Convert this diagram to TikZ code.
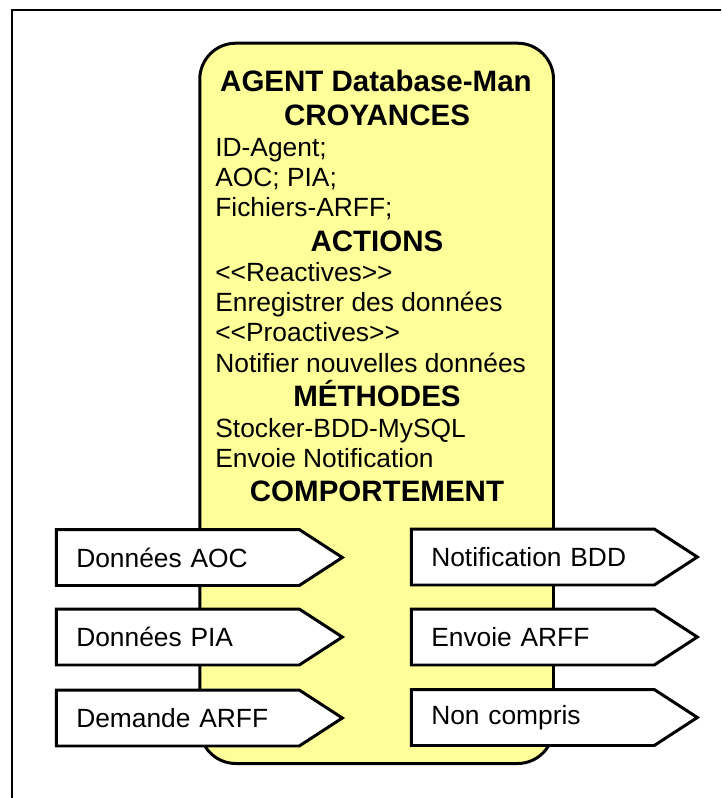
\documentclass[tikz,border=0pt]{standalone}
\usepackage{fontspec}
\setmainfont{Liberation Sans}
\usetikzlibrary{shapes.symbols}

\definecolor{agentyellow}{RGB}{255,255,153}

\tikzset{
	msg/.style={signal, signal to=east, signal pointer angle=66, draw=black, line width=1.7pt, fill=white,
		text width=4.06cm, inner xsep=0.40cm, minimum height=1.12cm, align=left,
		font=\fontsize{15}{18}\selectfont},
	ligne/.style={anchor=base west, inner sep=0pt, font=\fontsize{15}{18}\selectfont},
	titre/.style={anchor=base, inner sep=0pt, font=\bfseries\fontsize{16.8}{20}\selectfont}
}

\begin{document}
\begin{tikzpicture}[x=0.02cm, y=-0.02cm]
		\useasboundingbox (0,0) rectangle (721,798);

		% Draw the outer frame (it runs off the page right and bottom)
		\begin{scope}
			\clip (0,0) rectangle (721,798);
			\draw[line width=1.1pt] (12,10) rectangle (760,840);
		\end{scope}

		% Draw the agent body
		\draw[line width=1.7pt, fill=agentyellow, rounded corners=0.72cm] (199.8,43.2) rectangle (553.5,763.5);

		% Agent name and its sections
		\node[titre] (nom) at (376,91.7) {AGENT Database-Man};
		\node[titre] (croy) at (377,125) {CROYANCES};
		\node[ligne] (idagent) at (215,156.7) {ID-Agent;};
		\node[ligne] (aocpia) at (215,186.7) {AOC; PIA;};
		\node[ligne] (fichiers) at (215,216.7) {Fichiers-ARFF;};
		\node[titre] (actions) at (377,251.7) {ACTIONS};
		\node[ligne] (react) at (215,281.7) {<\kern0pt<Reactives>\kern0pt>};
		\node[ligne] (enreg) at (215,311.7) {Enregistrer des données};
		\node[ligne] (proact) at (215,341.7) {<\kern0pt<Proactives>\kern0pt>};
		\node[ligne] (notif) at (215,372.5) {Notifier nouvelles données};
		\node[titre] (meth) at (377,406) {MÉTHODES};
		\node[ligne] (stock) at (215,437.5) {Stocker-BDD-MySQL};
		\node[ligne] (envoi) at (215,467.5) {Envoie Notification};
		\node[titre] (comport) at (377,501.5) {COMPORTEMENT};

		% Incoming messages (left) and outgoing messages (right)
		\node[msg, anchor=west] (inaoc) at (54.8,557.5) {Données AOC};
		\node[msg, anchor=west] (inpia) at (54.8,637) {Données PIA};
		\node[msg, anchor=west] (inarff) at (54.8,718) {Demande ARFF};
		\node[msg, anchor=west] (outbdd) at (409.8,557) {Notification BDD};
		\node[msg, anchor=west] (outarff) at (409.8,637) {Envoie ARFF};
		\node[msg, anchor=west] (outnon) at (409.8,717.5) {Non compris};

	\end{tikzpicture}
\end{document}
